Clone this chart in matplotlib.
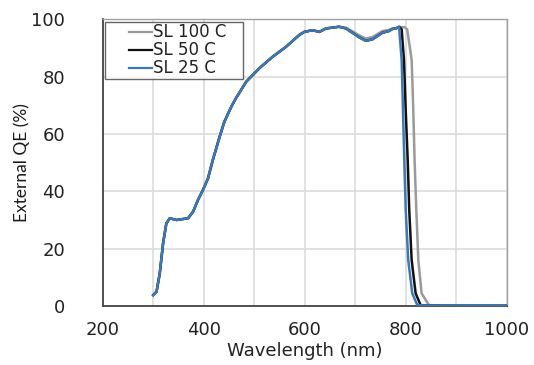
import matplotlib
matplotlib.use("Agg")
import matplotlib.pyplot as plt

# Shared part of the spectrum (all three curves overlap here)
wl_base = [300, 306.6, 313, 319.6, 326, 332.8, 346, 369, 379, 388.7, 398.6, 408.5,
           418, 431.5, 441, 454.6, 464, 484, 510, 537, 563, 589, 599, 615.6, 629,
           642, 655, 668, 681.5, 694.6, 708, 721, 734, 754, 767, 773.5, 780]
qe_base = [3.8, 5.0, 11.4, 21.9, 28.8, 30.6, 30.0, 30.6, 32.9, 37.0, 40.5, 44.5,
           50.9, 59.0, 64.3, 69.5, 72.5, 78.2, 82.9, 87.0, 90.4, 94.5, 95.6, 96.2, 95.6,
           96.8, 97.1, 97.4, 96.8, 95.3, 93.7, 92.5, 93.0, 95.3, 95.9, 96.6, 96.8]

# Band-edge tails of each series
wl_100 = [788, 797, 803, 811.8, 815, 817.6, 821, 825, 831.5, 846, 900, 1000]
qe_100 = [97.2, 97.3, 96.5, 85.8, 68.4, 50.9, 33.5, 16.0, 4.4, 0.3, 0.1, 0.1]
qe_100_dip = [0.0, 0.0, 0.0, 0.0, 0.0, 0.0, 0.0, 0.0, 0.0, 0.0, 0.0, 0.0, 0.0,
              0.0, 0.0, 0.0, 0.0, 0.0, 0.0, 0.0, 0.0, 0.0, 0.0, 0.0, 0.0,
              0.0, 0.0, 0.0, 0.3, 0.5, 0.7, 0.8, 0.8, 0.6, 0.4, 0.2, 0.0]

wl_50 = [787, 792, 796.6, 800, 804, 807, 811.8, 819.7, 829.6, 850, 1000]
qe_50 = [97.4, 96.5, 85.8, 68.4, 50.9, 33.5, 16.0, 4.4, 0.3, 0.1, 0.1]

wl_25 = [786.8, 792, 794.6, 797.2, 800, 805, 813, 823, 850, 1000]
qe_25 = [97.4, 85.8, 68.4, 50.9, 33.5, 16.0, 4.4, 0.3, 0.1, 0.1]

labels = ["SL 100 C", "SL 50 C", "SL 25 C"]
colors = ["#9a9a9a", "#111111", "#3d78b5"]

x_ticks = [200, 400, 600, 800, 1000]
y_ticks = [0, 20, 40, 60, 80, 100]

fig = plt.figure(figsize=(5.34, 3.65), dpi=100)
ax = fig.add_axes([102.7 / 534, 59 / 365, 404 / 534, 286.7 / 365])

x100 = wl_base + wl_100
y100 = [a + b for a, b in zip(qe_base, qe_100_dip)] + qe_100
x50 = wl_base + wl_50
y50 = qe_base + qe_50
x25 = wl_base + wl_25
y25 = qe_base + qe_25

ax.plot(x100, y100, color=colors[0], lw=1.8, label=labels[0] + "   ", zorder=3)
ax.plot(x50, y50, color=colors[1], lw=1.8, label=labels[1] + "   ", zorder=4)
ax.plot(x25, y25, color=colors[2], lw=1.8, label=labels[2] + "   ", zorder=5)

ax.set_xlim(200, 1000)
ax.set_ylim(0, 100)
ax.set_xticks(x_ticks)
ax.set_yticks(y_ticks)
ax.set_xticks(range(300, 1000, 100), minor=True)
ax.grid(True, which="both", color="#dcdcdc", lw=1.2, zorder=0)
ax.set_axisbelow(True)
ax.tick_params(which="both", length=0)
ax.tick_params(axis="x", pad=11, labelsize=13, labelcolor="#222222")
ax.tick_params(axis="y", pad=27, labelsize=13, labelcolor="#222222")

for s in ["left", "bottom"]:
    ax.spines[s].set_color("#444444")
    ax.spines[s].set_linewidth(1.3)
for s in ["top", "right"]:
    ax.spines[s].set_color("#a0a0a0")
    ax.spines[s].set_linewidth(1.0)

fig.text(22 / 534, 1 - 163 / 365, "External QE (%)", rotation=90,
         ha="center", va="center", fontsize=12.5, family="Lato", color="#1a1a1a")
fig.text(304.7 / 534, 1 - 351 / 365, "Wavelength (nm)",
         ha="center", va="center", fontsize=13, color="#222222")

leg = ax.legend(loc="upper left", fontsize=12, frameon=True, fancybox=False,
                handlelength=2.7, handletextpad=0.05, labelspacing=0.0,
                borderpad=0.1, borderaxespad=0.15)
leg.get_frame().set_edgecolor("#404040")
leg.get_frame().set_linewidth(1.0)
for t in leg.get_texts():
    t.set_color("#222222")
for ln in leg.get_lines():
    xd = list(ln.get_xdata())
    yd = list(ln.get_ydata())
    x0, x1 = xd[0], xd[-1]
    ln.set_data([x0 + (x1 - x0) * 0.5, x1], [yd[0], yd[-1]])
    ln.set_linewidth(1.6)

fig.savefig("out.png", dpi=100)
